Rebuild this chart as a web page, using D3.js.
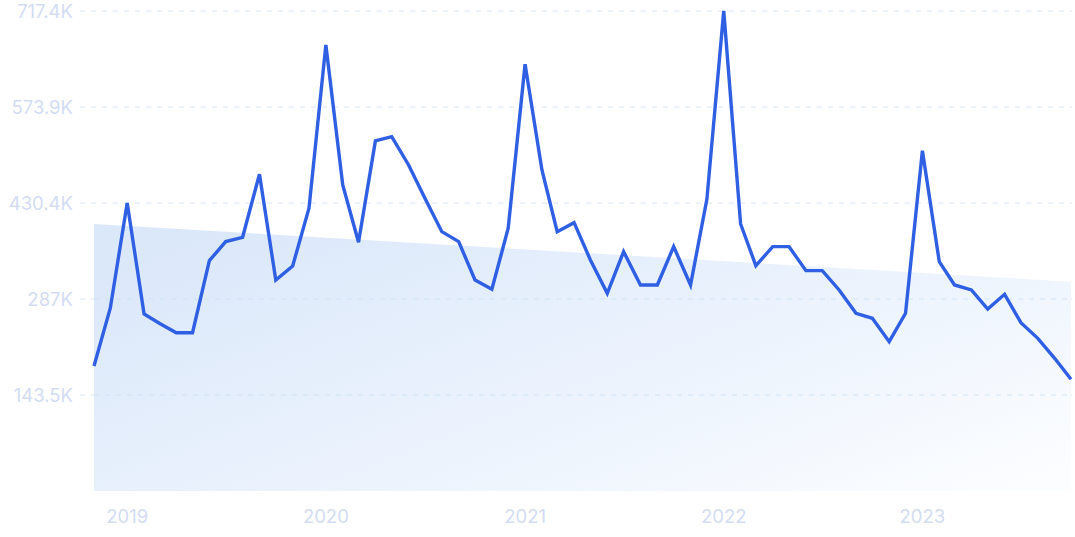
<!DOCTYPE html>
<html>
<head>
<meta charset="utf-8">
<script src="https://cdn.jsdelivr.net/npm/d3@7"></script>
<style>
  html, body { margin: 0; padding: 0; background: #ffffff; }
  svg { display: block; font-family: Inter, "Noto Sans", sans-serif; }
</style>
</head>
<body>
<svg id="chart" width="1075" height="537"></svg>
<script>
// Monthly values (thousands), Nov 2018 .. Oct 2023
const months = d3.range(60).map(i => new Date(2018, 10 + i, 1));
const values = [
  186.8, 273.5,
  430.5, 264.6, 250.7, 236.6, 236.6, 344.3, 372.7, 379.2, 473.4, 315.4, 336.3, 422.6,
  666.7, 457.4, 371.8, 523.2, 529.6, 487.3, 437.5, 387.6, 372.7, 315.4, 301.5, 392.7,
  637.8, 479.8, 387.6, 401.1, 345.3, 295.5, 357.7, 307.9, 307.9, 365.2, 307.9, 436.0,
  717.4, 399.1, 336.8, 365.2, 365.2, 329.3, 329.3, 300.5, 265.6, 258.1, 223.2, 265.6,
  508.7, 342.8, 307.9, 300.5, 272.0, 294.0, 251.6, 228.2, 198.3, 167.0
];
const trendValues = [399.1, 312.9]; // background trend band: start, end
const yTicks = [143.5, 287.0, 430.4, 573.9, 717.4];
const yTickLabels = ["143.5K", "287K", "430.4K", "573.9K", "717.4K"];
const xTicks = [2019, 2020, 2021, 2022, 2023];

const svg = d3.select("#chart");
const x = d3.scaleTime()
  .domain([months[0], months[months.length - 1]])
  .range([94, 1071]);
const y = d3.scaleLinear().domain([0, 717.4]).range([491, 11]);

const defs = svg.append("defs");
const grad = defs.append("linearGradient")
  .attr("id", "bandGrad")
  .attr("x1", "0").attr("y1", "0.2").attr("x2", "1").attr("y2", "0.9");
grad.append("stop").attr("offset", "0").attr("stop-color", "#dbe8fa");
grad.append("stop").attr("offset", "0.55").attr("stop-color", "#ecf3fd");
grad.append("stop").attr("offset", "1").attr("stop-color", "#fbfdff");

// grid
svg.append("g").selectAll("line")
  .data(yTicks).join("line")
  .attr("x1", 80).attr("x2", 1072)
  .attr("y1", d => y(d)).attr("y2", d => y(d))
  .attr("stroke", "#d9e5f6")
  .attr("stroke-width", 1)
  .attr("stroke-dasharray", "5,6");

// trend band
const band = [
  { t: months[0], v: trendValues[0] },
  { t: months[months.length - 1], v: trendValues[1] }
];
svg.append("path")
  .datum(band)
  .attr("fill", "url(#bandGrad)")
  .attr("d", d3.area().x(d => x(d.t)).y0(y(0)).y1(d => y(d.v)));

// grid over band
svg.append("g").selectAll("line")
  .data(yTicks.slice(0, 2)).join("line")
  .attr("x1", 94).attr("x2", 1071)
  .attr("y1", d => y(d)).attr("y2", d => y(d))
  .attr("stroke", "#c9e2f8")
  .attr("stroke-opacity", 0.8)
  .attr("stroke-width", 1)
  .attr("stroke-dasharray", "5,6");

// y labels
svg.append("g").selectAll("text")
  .data(yTicks).join("text")
  .attr("x", 73).attr("y", d => y(d))
  .attr("dy", "0.36em")
  .attr("text-anchor", "end")
  .attr("fill", "#d3dcf3")
  .attr("font-size", 18.5)
  .text((d, i) => yTickLabels[i]);

// x labels
svg.append("g").selectAll("text")
  .data(xTicks).join("text")
  .attr("x", d => x(new Date(d, 0, 1)))
  .attr("y", 516)
  .attr("dy", "0.36em")
  .attr("text-anchor", "middle")
  .attr("fill", "#d3dcf3")
  .attr("font-size", 18.5)
  .text(d => d);

// line
svg.append("path")
  .datum(values)
  .attr("fill", "none")
  .attr("stroke", "#2f5fe3")
  .attr("stroke-width", 3.4)
  .attr("stroke-linejoin", "miter")
  .attr("d", d3.line().x((d, i) => x(months[i])).y(d => y(d)));
</script>
</body>
</html>
